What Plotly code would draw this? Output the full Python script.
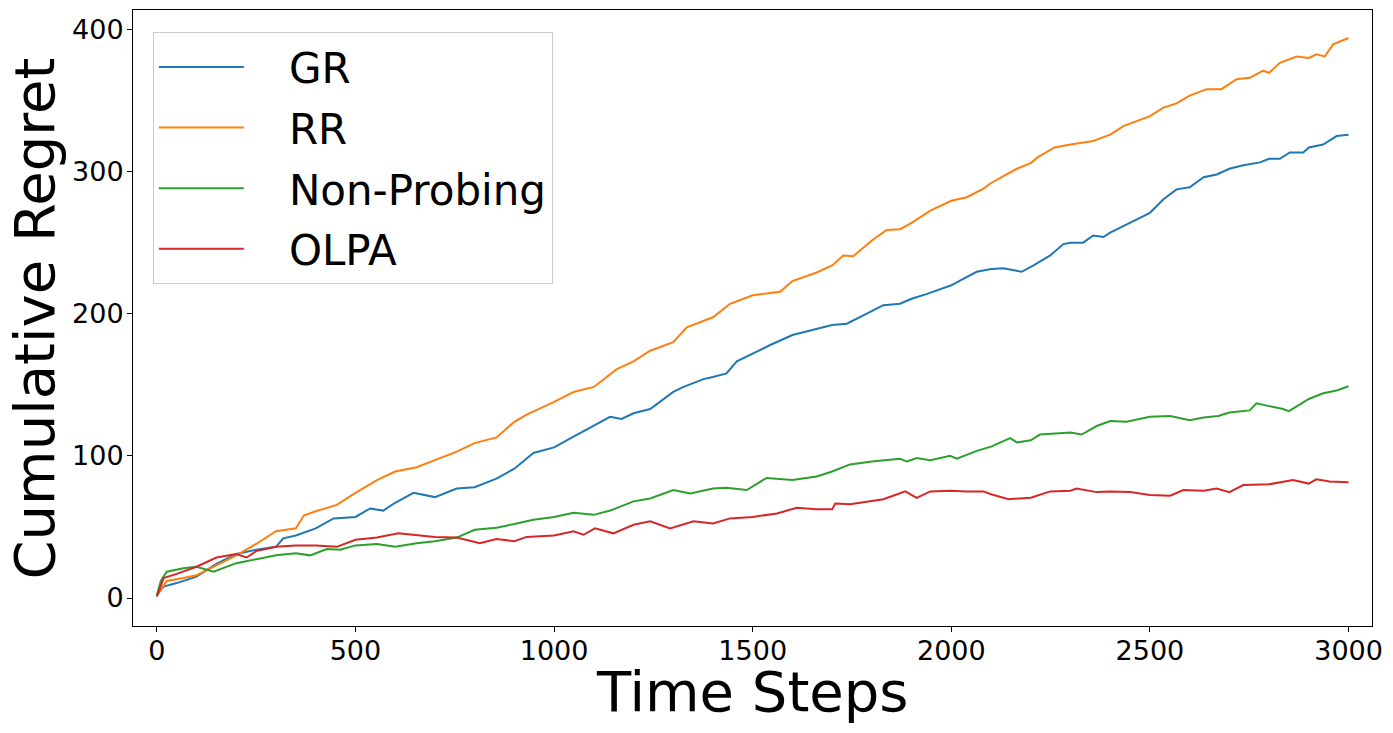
import plotly.graph_objects as go

# ---- data ----
GR_t = [0, 17, 50, 100, 150, 200, 250, 300, 318, 350, 400, 445, 500, 537, 570, 600, 646, 700, 755, 800,
        855, 900, 948, 1000, 1049, 1100, 1141, 1170, 1200, 1242, 1300, 1326, 1376, 1400, 1434, 1460, 1500, 1544, 1600, 1661,
        1700, 1737, 1800, 1829, 1871, 1900, 1939, 2000, 2030, 2064, 2100, 2131, 2177, 2207, 2249, 2282, 2300, 2332, 2357, 2383,
        2400, 2450, 2500, 2534, 2567, 2600, 2635, 2668, 2700, 2735, 2777, 2800, 2827, 2852, 2886, 2900, 2936, 2970, 3000]
GR_v = [2, 8, 10.5, 15, 24, 31, 34, 36, 42, 44, 49, 56, 57, 63, 61.5, 67, 74, 71, 77, 78,
        84, 91, 102, 106, 113.5, 121.5, 127.5, 126, 130, 133, 145, 148.5, 154, 155.5, 158, 166.5, 172, 178, 185, 189.5,
        192, 193, 202, 206, 207, 210.5, 214, 220, 224.5, 229.5, 231.5, 232, 229.5, 234, 241, 249, 250, 250, 255, 254,
        257, 264, 271, 280.5, 287.5, 289, 296, 298, 302, 304.5, 306.5, 309, 309, 313.5, 313.5, 317, 319, 325, 326]

RR_t = [0, 25, 67, 100, 150, 200, 250, 300, 350, 370, 400, 453, 500, 554, 600, 654, 700, 755, 800, 855,
        900, 931, 1000, 1049, 1100, 1158, 1200, 1242, 1300, 1334, 1400, 1443, 1500, 1569, 1600, 1661, 1700, 1728, 1753, 1800,
        1837, 1871, 1900, 1947, 2000, 2039, 2081, 2100, 2165, 2200, 2217, 2260, 2300, 2357, 2400, 2433, 2500, 2534, 2567, 2600,
        2643, 2680, 2718, 2751, 2785, 2800, 2827, 2869, 2900, 2919, 2940, 2961, 3000]
RR_v = [2, 12, 14, 16, 23, 30, 38, 47, 49, 58, 61, 65.5, 74, 83, 89, 92, 97, 103, 109, 113,
        124, 129, 138, 145, 148.5, 161, 166.5, 174, 180, 190.5, 197.5, 207, 213, 215.5, 223, 229, 234, 241, 240.5, 251.5,
        259, 259.5, 264, 272.5, 279.5, 282, 288, 292, 302, 306, 310, 317, 319, 321.5, 326, 332, 339, 345, 348, 353.5,
        358, 358, 365, 366, 371, 369.5, 376.5, 381, 380, 382.5, 381, 389.5, 394]

NP_t = [0, 10, 25, 67, 100, 143, 200, 250, 300, 350, 386, 428, 462, 500, 554, 600, 654, 700, 755, 800,
        855, 900, 948, 1000, 1049, 1100, 1141, 1200, 1242, 1300, 1343, 1400, 1434, 1485, 1535, 1600, 1661, 1700, 1745, 1800,
        1871, 1888, 1913, 1947, 1997, 2014, 2064, 2100, 2148, 2165, 2200, 2223, 2265, 2300, 2328, 2366, 2400, 2441, 2500, 2551,
        2600, 2635, 2672, 2700, 2751, 2768, 2800, 2835, 2850, 2900, 2936, 2970, 3000]
NP_v = [2, 12, 18.5, 21, 22, 18.5, 24.5, 27, 30, 31.5, 30, 34.5, 34, 37, 38, 36, 38.5, 40, 42.5, 48,
        49.5, 52, 55, 57, 60, 58.5, 61.5, 68, 70, 76, 73.5, 77, 77.5, 76, 84.5, 83, 85.5, 89, 94, 96,
        98, 96, 98.5, 97, 100, 98, 103.5, 106.5, 112.5, 109.5, 111, 115, 116, 116.5, 115, 121, 124.5, 124, 127.5, 128,
        125, 127, 128, 130.5, 132, 137, 135, 133, 131.5, 140, 144, 146, 149]

OLPA_t = [0, 17, 50, 100, 150, 200, 226, 250, 300, 350, 400, 453, 500, 554, 608, 654, 700, 755, 813, 855,
          900, 931, 1000, 1049, 1074, 1103, 1149, 1200, 1242, 1292, 1351, 1400, 1443, 1500, 1561, 1611, 1661, 1700, 1708, 1745,
          1800, 1829, 1884, 1913, 1947, 1997, 2039, 2081, 2100, 2144, 2200, 2249, 2300, 2315, 2366, 2400, 2450, 2500, 2551, 2584,
          2635, 2668, 2700, 2735, 2800, 2860, 2900, 2919, 2952, 3000]
OLPA_v = [1, 14, 17, 22, 28.5, 31, 28.5, 33, 36, 37, 37, 36, 41, 42.5, 45.5, 44, 43, 42.5, 38.5, 41.5,
          40, 43, 44, 47, 44.5, 49, 45.5, 51.5, 54, 49, 54, 52.5, 56, 57, 59.5, 63.5, 62.5, 62.5, 66.5, 66,
          68.5, 69.5, 75, 70.5, 75, 75.5, 75, 75, 73, 69.5, 70.5, 75, 75.5, 77, 74.5, 75, 74.5, 72.5, 72, 76,
          75.5, 77, 74.5, 79.5, 80, 83, 80.5, 83.5, 82, 81.5]

series_names = ["GR", "RR", "Non-Probing", "OLPA"]
series_colors = ["#1f77b4", "#ff7f0e", "#2ca02c", "#d62728"]
series_data = [(GR_t, GR_v), (RR_t, RR_v), (NP_t, NP_v), (OLPA_t, OLPA_v)]

x_ticks = [0, 500, 1000, 1500, 2000, 2500, 3000]
y_ticks = [0, 100, 200, 300, 400]
x_title = "Time Steps"
y_title = "Cumulative Regret"

NBSP = "\u00a0"

fig = go.Figure()
for name, color, (t, v) in zip(series_names, series_colors, series_data):
    fig.add_trace(go.Scatter(x=t, y=v, mode="lines", name=NBSP * 3 + name,
                             legendgroup=name,
                             line=dict(color=color, width=2)))

axis_common = dict(showline=True, linecolor="black", linewidth=1, mirror=True,
                   ticks="outside", ticklen=5, tickwidth=1, tickcolor="black",
                   showgrid=False, zeroline=False,
                   tickfont=dict(size=27, color="black"))

fig.update_layout(
    width=1385, height=725,
    margin=dict(l=125, r=21, t=2, b=107),
    plot_bgcolor="white", paper_bgcolor="white",
    font=dict(family="DejaVu Sans", color="black"),
    xaxis=dict(range=[-60, 3059], tickvals=x_ticks, ticklabelstandoff=-4,
               **axis_common),
    yaxis=dict(range=[-19.7, 413.7], tickvals=y_ticks, ticklabelstandoff=-2,
               **axis_common),
    legend=dict(x=0.016, y=0.964, xanchor="left", yanchor="top",
                font=dict(size=42), bordercolor="#cccccc", borderwidth=1,
                bgcolor="rgba(255,255,255,0.8)", itemwidth=85,
                tracegroupgap=3),
    showlegend=True,
    annotations=[
        dict(text=x_title, xref="paper", yref="paper", x=0.5, y=-0.107,
             xanchor="center", yanchor="middle", showarrow=False,
             font=dict(size=56, color="black")),
        dict(text=y_title, xref="paper", yref="paper", x=-0.0795, y=0.5,
             xanchor="center", yanchor="middle", showarrow=False, textangle=-90,
             font=dict(size=56, color="black")),
    ],
)

fig.write_html("out.html")
